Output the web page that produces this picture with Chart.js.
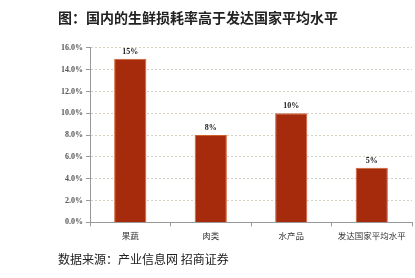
<!DOCTYPE html>
<html>
<head>
<meta charset="utf-8">
<script src="https://cdn.jsdelivr.net/npm/chart.js@4"></script>
<style>
  html, body { margin: 0; padding: 0; background: #fff; }
  #wrap { width: 415px; height: 278px; }
</style>
</head>
<body>
<div id="wrap"><canvas id="lossChart" width="415" height="278"></canvas></div>
<script>
const categories = ['果蔬', '肉类', '水产品', '发达国家平均水平'];
const lossRates = [15, 8, 10, 5];
const yTicks = [0, 2, 4, 6, 8, 10, 12, 14, 16];

const titleText = '图：国内的生鲜损耗率高于发达国家平均水平';
const sourceText = '数据来源：产业信息网 招商证券';

// value labels above each bar
const barLabels = {
    id: 'barLabels',
    afterDatasetsDraw(chart) {
        const ctx = chart.ctx;
        const meta = chart.getDatasetMeta(0);
        ctx.save();
        ctx.font = 'bold 8px "Liberation Serif"';
        ctx.fillStyle = '#222';
        ctx.textAlign = 'center';
        ctx.textBaseline = 'bottom';
        meta.data.forEach((bar, i) => {
            ctx.fillText(lossRates[i] + '%', bar.x, bar.y - 3);
        });
        ctx.restore();
    }
};

new Chart(document.getElementById('lossChart').getContext('2d'), {
    type: 'bar',
    data: {
        labels: categories,
        datasets: [{
            data: lossRates,
            backgroundColor: '#a62a0c',
            borderColor: '#d0602e',
            borderWidth: 1,
            barPercentage: 0.4,
            categoryPercentage: 1
        }]
    },
    options: {
        responsive: false,
        animation: false,
        layout: { padding: { left: 58, right: 3, top: 0, bottom: 0 } },
        plugins: {
            legend: { display: false },
            tooltip: { enabled: false },
            title: {
                display: true,
                text: titleText,
                align: 'start',
                color: '#222',
                font: { family: '"Noto Sans CJK SC"', size: 14, weight: 'bold' },
                padding: { top: 9, bottom: 22 }
            },
            subtitle: {
                display: true,
                position: 'bottom',
                text: sourceText,
                align: 'start',
                color: '#222',
                font: { family: '"Noto Sans CJK SC"', size: 12, weight: 'normal' },
                padding: { top: 8, bottom: 11 }
            }
        },
        scales: {
            x: {
                offset: true,
                grid: { display: true, drawOnChartArea: false, offset: true, tickLength: 4, color: '#999' },
                border: { color: '#999', width: 1 },
                ticks: {
                    color: '#333',
                    padding: 4,
                    maxRotation: 0,
                    autoSkip: false,
                    font: { family: '"Noto Sans CJK SC"', size: 8.5 }
                }
            },
            y: {
                min: 0,
                max: 16,
                afterFit: (scale) => { scale.width = 32; },
                afterBuildTicks: (scale) => { scale.ticks = yTicks.map(v => ({ value: v })); },
                grid: { color: '#d8cfc2', tickLength: 4, tickColor: '#999' },
                border: { color: '#999', width: 1, dash: [2, 2] },
                ticks: {
                    color: '#555',
                    padding: 3,
                    font: { family: '"Liberation Serif"', size: 8, weight: 'bold' },
                    callback: (v) => v.toFixed(1) + '%'
                }
            }
        }
    },
    plugins: [barLabels]
});
</script>
</body>
</html>
